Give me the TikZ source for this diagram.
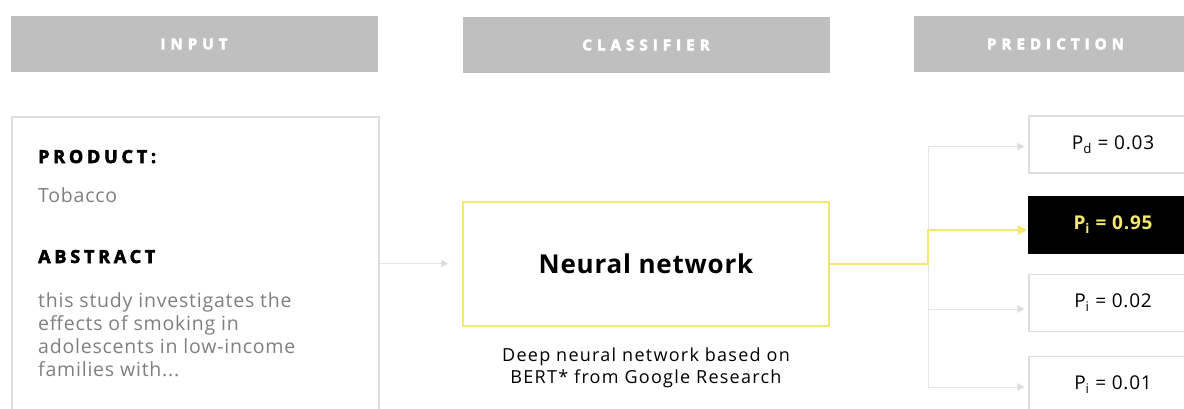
\documentclass[tikz,border=0pt]{standalone}
\usepackage{fontspec}
\setmainfont{Open Sans}
\usetikzlibrary{arrows.meta}
\definecolor{hdrgray}{HTML}{BFBFBF}
\definecolor{boxgray}{HTML}{DDDDDD}
\definecolor{linegray}{HTML}{E6E6E6}
\definecolor{tipgray}{HTML}{D9D9D9}
\definecolor{txtgray}{HTML}{7F7F7F}
\definecolor{ylw}{HTML}{F4E96E}
\tikzset{
  hdrbox/.style={fill=hdrgray, draw=none, minimum width=367pt, minimum height=56pt, inner sep=0pt,
    text=white, font=\fontsize{15}{17}\selectfont\bfseries\addfontfeatures{LetterSpace=34,FakeBold=4}},
  outbox/.style={draw=boxgray, line width=1.6pt, fill=white, inner sep=0pt},
  headtxt/.style={anchor=base west, inner sep=0pt, font=\fontsize{18}{20}\selectfont\bfseries\addfontfeatures{LetterSpace=21,FakeBold=3}},
  bodytxt/.style={anchor=base west, inner sep=0pt, text=txtgray, font=\fontsize{19.5}{22}\selectfont\addfontfeatures{LetterSpace=4}},
  captxt/.style={anchor=base, inner sep=0pt, font=\fontsize{18}{22}\selectfont\addfontfeatures{LetterSpace=7}},
  pbox/.style={outbox, minimum width=168pt, minimum height=57pt, font=\fontsize{19}{22}\selectfont\addfontfeatures{LetterSpace=4}},
  gline/.style={draw=linegray, line width=1pt},
  gtip/.style={-{Triangle[length=8pt,width=8pt,fill=tipgray]}, shorten >=3pt},
  yline/.style={draw=ylw, line width=2pt},
  ytip/.style={-{Triangle[length=9pt,width=9pt]}, shorten >=1pt}
}
\begin{document}
\begin{tikzpicture}[x=1pt,y=-1pt]
\useasboundingbox (0,0) rectangle (1184,408);
\clip (0,0) rectangle (1184,408);
% headers
\node[hdrbox] (hin) at (194,44) {INPUT\hspace{-6pt}};
\node[hdrbox] (hcl) at (646,45) {CLASSIFIER\hspace{-6pt}};
\node[hdrbox, minimum width=283pt] (hpr) at (1055.5,44) {PREDICTION\hspace{-6pt}};
% input box
\node[outbox, anchor=north west, minimum width=367pt, minimum height=320pt] (inp) at (11,116) {};
\node[headtxt] (prodh) at (38,163) {PRODUCT:};
\node[bodytxt] (prod) at (38,202) {Tobacco};
\node[headtxt] (absh) at (38,263) {ABSTRACT};
\node[bodytxt] (abs1) at (38,307) {this study investigates the};
\node[bodytxt] (abs2) at (38,330) {effects of smoking in};
\node[bodytxt] (abs3) at (38,353) {adolescents in low-income};
\node[bodytxt] (abs4) at (38,376) {families with...};
% classifier
\node[draw=ylw, line width=2pt, minimum width=366pt, minimum height=124pt, inner sep=0pt,
  font=\fontsize{26}{30}\selectfont\bfseries\addfontfeatures{LetterSpace=3}] (nn) at (646,263.5) {Neural network};
\node[captxt] (cap1) at (646,361) {Deep neural network based on};
\node[captxt] (cap2) at (646,383) {BERT* from Google Research};
% predictions
\node[pbox] (p1) at (1113,144.5) {P\textsubscript{d} = 0.03};
\node[pbox, fill=black, draw=black, text=ylw, font=\fontsize{19}{22}\selectfont\bfseries\addfontfeatures{LetterSpace=4}] (p2) at (1113,225) {P\textsubscript{i} = 0.95};
\node[pbox] (p3) at (1113,303) {P\textsubscript{i} = 0.02};
\node[pbox] (p4) at (1113,385) {P\textsubscript{i} = 0.01};
% connectors
\coordinate (split) at (928,263.5);
\draw[gline, gtip] (inp.east |- nn.west) -- ([xshift=-10pt]nn.west);
\draw[gline, gtip] (split) |- ([yshift=-2pt]p1.west);
\draw[gline, gtip] (split) |- ([yshift=-6pt]p3.west);
\draw[gline, gtip] (split) |- ([yshift=-2pt]p4.west);
\draw[yline, ytip] (nn.east) -- (split) |- ([yshift=-5pt]p2.west);
\end{tikzpicture}
\end{document}
